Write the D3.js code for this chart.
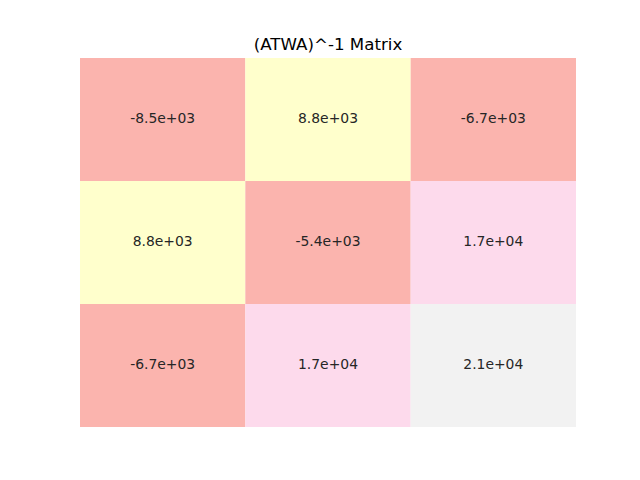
<!DOCTYPE html>
<html><head><meta charset="utf-8">
<script src="https://cdn.jsdelivr.net/npm/d3@7"></script>
<style>body{margin:0;background:#fff}svg{display:block}</style>
</head><body>
<svg id="c" width="640" height="480"></svg>
<script>
const title = "(ATWA)^-1 Matrix";
const rowsIdx = [0, 1, 2];
const colsIdx = [0, 1, 2];
const row0 = [-8500, 8800, -6700];
const row1 = [8800, -5400, 17000];
const row2 = [-6700, 17000, 21000];
const matrix = [row0, row1, row2];

(function(){
const svg = d3.select("#c");
const mLeft = 80, mRight = 576, mTop = 58, mBottom = 427;
const x = d3.scaleBand().domain(colsIdx).range([mLeft, mRight]);
const y = d3.scaleBand().domain(rowsIdx).range([mTop, mBottom]);
const all = matrix.flat();
const color = d3.scaleQuantize().domain(d3.extent(all)).range(d3.schemePastel1);

function fmt(v){
  const s = v.toExponential(1);
  return s.replace(/e([+-])(\d)$/, "e$10$2");
}
const cells = [];
matrix.forEach((r,i)=>r.forEach((v,j)=>cells.push({i,j,v})));
svg.selectAll("rect").data(cells).join("rect")
  .attr("x", d=>x(d.j)).attr("y", d=>y(d.i))
  .attr("width", x.bandwidth()).attr("height", y.bandwidth())
  .attr("fill", d=>color(d.v));
svg.selectAll("text.v").data(cells).join("text").attr("class","v")
  .attr("x", d=>x(d.j)+x.bandwidth()/2).attr("y", d=>y(d.i)+y.bandwidth()/2+3.5)
  .attr("text-anchor","middle")
  .attr("font-family","DejaVu Sans").attr("font-size","13.9px").attr("fill","#262626")
  .text(d=>fmt(d.v));
svg.append("text").attr("x",(mLeft+mRight)/2).attr("y",mTop-8)
  .attr("text-anchor","middle").attr("font-family","DejaVu Sans").attr("font-size","16.67px")
  .attr("fill","#000").text(title);
})();
</script>
</body></html>
